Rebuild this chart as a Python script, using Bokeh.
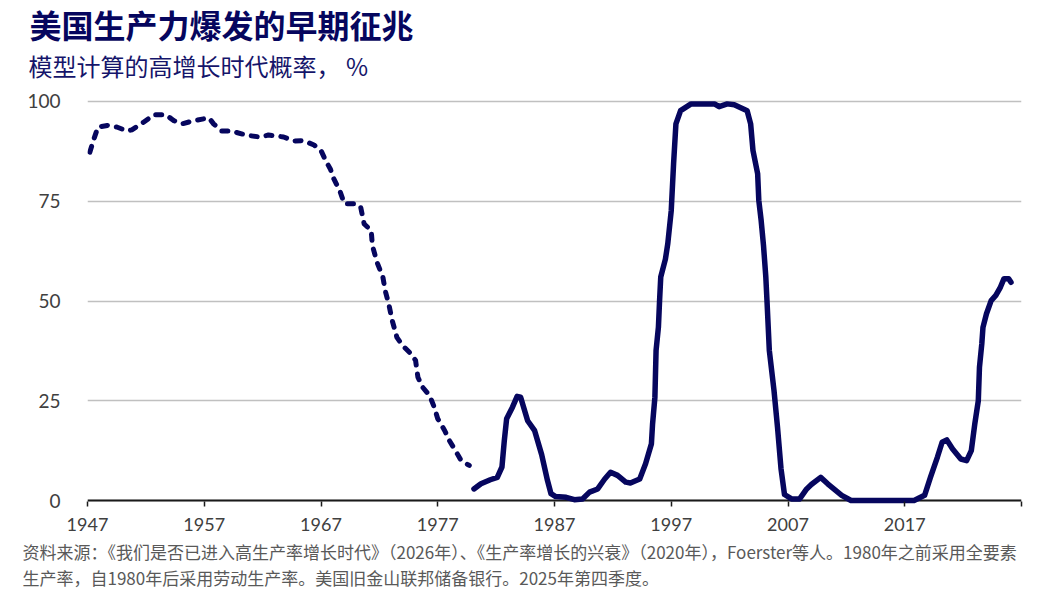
from bokeh.plotting import figure
from bokeh.models import Range1d, FixedTicker, Span, Title, ColumnDataSource
from bokeh.embed import file_html
from bokeh.resources import INLINE

# Probability of a high-growth regime, %, based on total factor productivity (to 1980)
tfp_years = [1947.2, 1947.5, 1947.9, 1948.7, 1949.5, 1950.4, 1950.8, 1951.8, 1952.7, 1953.7,
             1954.4, 1955.1, 1956.1, 1957.4, 1957.8, 1958.5, 1959.3, 1960.7, 1961.8, 1962.5,
             1963.8, 1964.7, 1965.5, 1966.4, 1967.0, 1967.4, 1967.8, 1968.1, 1968.6, 1969.0,
             1970.0, 1970.4, 1970.7, 1971.3, 1971.4, 1971.8, 1972.3, 1972.5, 1972.8, 1973.1,
             1973.5, 1974.0, 1974.7, 1975.1, 1975.3, 1975.7, 1976.3, 1976.7, 1977.0, 1977.6,
             1978.0, 1978.6, 1979.0, 1979.7]
tfp_prob = [87.3, 90.2, 93.6, 94.0, 93.6, 92.6, 92.9, 94.8, 96.7, 96.7,
            95.2, 94.4, 95.2, 95.9, 94.4, 92.6, 92.6, 91.5, 91.1, 91.6,
            91.1, 90.1, 90.2, 89.1, 87.7, 85.2, 83.1, 80.6, 77.7, 74.4,
            74.4, 73.5, 69.3, 67.7, 63.9, 59.7, 56.0, 52.6, 49.3, 45.1,
            40.9, 38.8, 36.8, 35.1, 30.9, 28.4, 26.3, 23.4, 20.5, 17.5,
            15.0, 12.1, 10.0, 8.8]

# Same probability based on labour productivity (from 1980)
lp_years = [1980.1, 1980.7, 1981.5, 1982.1, 1982.5, 1982.7, 1982.9, 1983.4, 1983.8, 1984.1,
            1984.7, 1985.3, 1985.9, 1986.4, 1986.7, 1987.1, 1988.0, 1988.7, 1989.4, 1990.0,
            1990.7, 1991.3, 1991.8, 1992.4, 1993.1, 1993.5, 1994.3, 1994.8, 1995.3, 1995.4,
            1995.6, 1995.7, 1995.9, 1996.0, 1996.1, 1996.5, 1996.7, 1997.0, 1997.2, 1997.4,
            1997.8, 1998.7, 2000.7, 2001.1, 2001.8, 2002.4, 2003.5, 2003.8, 2004.0, 2004.4,
            2004.5, 2004.7, 2004.9, 2005.1, 2005.2, 2005.4, 2005.8, 2006.1, 2006.4, 2006.7,
            2007.3, 2008.0, 2008.6, 2009.0, 2009.8, 2010.4, 2011.6, 2012.4, 2017.8, 2018.7,
            2019.2, 2019.8, 2020.2, 2020.6, 2021.1, 2021.8, 2022.3, 2022.7, 2023.0, 2023.3,
            2023.4, 2023.6, 2023.7, 2024.0, 2024.4, 2024.8, 2025.2, 2025.5, 2025.9, 2026.1]
lp_prob = [2.9, 4.2, 5.2, 5.8, 8.4, 15.0, 20.5, 23.4, 26.1, 25.9,
           20.0, 17.5, 11.5, 5.0, 1.7, 1.0, 0.8, 0.2, 0.4, 2.1,
           2.9, 5.4, 7.1, 6.3, 4.6, 4.4, 5.4, 9.2, 14.2, 19.2,
           25.9, 37.6, 43.4, 50.1, 56.0, 60.5, 64.3, 72.7, 84.4, 94.4,
           97.7, 99.4, 99.4, 98.7, 99.4, 99.2, 97.7, 94.4, 87.7, 81.9,
           75.2, 70.2, 64.0, 56.0, 50.1, 37.6, 27.6, 18.4, 8.0, 1.5,
           0.4, 0.4, 2.9, 4.0, 5.8, 4.2, 1.3, 0.0, 0.0, 1.3,
           5.8, 10.9, 14.6, 15.2, 12.9, 10.4, 10.0, 12.5, 19.2, 25.0,
           33.4, 39.3, 43.4, 46.8, 50.1, 51.4, 53.5, 55.6, 55.6, 54.7]

x_ticks = [1947, 1957, 1967, 1977, 1987, 1997, 2007, 2017, 2027]
y_ticks = [0, 25, 50, 75, 100]

title_text = "美国生产力爆发的早期征兆"
subtitle_text = "模型计算的高增长时代概率， %"
source_lines = [
    "资料来源：《我们是否已进入高生产率增长时代》（2026年）、《生产率增长的兴衰》（2020年），Foerster等人。1980年之前采用全要素",
    "生产率，自1980年后采用劳动生产率。美国旧金山联邦储备银行。2025年第四季度。",
]

NAVY = "#06065e"
TEXT = "#404040"
CJK = "Noto Sans CJK SC"

# frame occupies canvas x 87..1021, y 99..506
FRAME_LEFT = 87
FRAME_BOTTOM = 506

p = figure(width=1062, height=605, output_backend="svg", toolbar_location=None,
           x_range=Range1d(1947, 2027), y_range=Range1d(-1.5, 100.5),
           min_border_left=FRAME_LEFT, min_border_right=41, min_border_top=99,
           min_border_bottom=605 - FRAME_BOTTOM)
p.outline_line_color = None
p.background_fill_color = "white"
p.border_fill_color = "white"

# axes
p.xaxis.ticker = FixedTicker(ticks=x_ticks)
p.xaxis.major_label_overrides = {2027: ""}
p.xaxis.axis_line_alpha = 0
p.xaxis.major_tick_in = 5
p.xaxis.major_tick_out = 0
p.xaxis.major_tick_line_color = "#1a1a1a"
p.xaxis.major_tick_line_width = 1.5
p.xaxis.minor_tick_line_color = None
p.xaxis.major_label_standoff = 11
p.xaxis.major_label_text_font = "Lato"
p.xaxis.major_label_text_font_size = "18px"
p.xaxis.major_label_text_color = TEXT

p.yaxis.ticker = FixedTicker(ticks=y_ticks)
p.yaxis.axis_line_color = None
p.yaxis.major_tick_line_color = None
p.yaxis.minor_tick_line_color = None
p.yaxis.major_label_standoff = 21
p.yaxis.major_label_text_font = "Lato"
p.yaxis.major_label_text_font_size = "19px"
p.yaxis.major_label_text_color = TEXT

p.xgrid.grid_line_color = None
p.ygrid.grid_line_color = "#c0c0c0"
p.ygrid.grid_line_width = 1.5

# zero baseline acting as the x axis line
p.add_layout(Span(location=0, dimension="width", line_color="#1a1a1a", line_width=2, level="underlay"))

tfp = ColumnDataSource(dict(year=tfp_years, prob=tfp_prob))
lp = ColumnDataSource(dict(year=lp_years, prob=lp_prob))

p.line("year", "prob", source=tfp, line_color=NAVY, line_width=5, line_dash="6 9",
       line_cap="round", line_join="round")
p.line("year", "prob", source=lp, line_color=NAVY, line_width=5.5,
       line_cap="round", line_join="round")

# headings above the frame: the first one added sits nearest the frame
p.add_layout(Title(text=subtitle_text, text_font=CJK, text_font_size="24px",
                   text_font_style="normal", text_color="#15156a",
                   align="left", offset=28 - FRAME_LEFT, standoff=34), "above")
p.add_layout(Title(text=title_text, text_font=CJK, text_font_size="32px",
                   text_font_style="bold", text_color=NAVY,
                   align="left", offset=29 - FRAME_LEFT, standoff=-37), "above")

# source note below the x axis
for line, gap in zip(source_lines, [7, -10]):
    p.add_layout(Title(text=line, text_font=CJK, text_font_size="17px",
                       text_font_style="normal", text_color="#595959",
                       align="left", offset=22 - FRAME_LEFT, standoff=gap), "below")

open("out.html", "w").write(file_html(p, INLINE))
